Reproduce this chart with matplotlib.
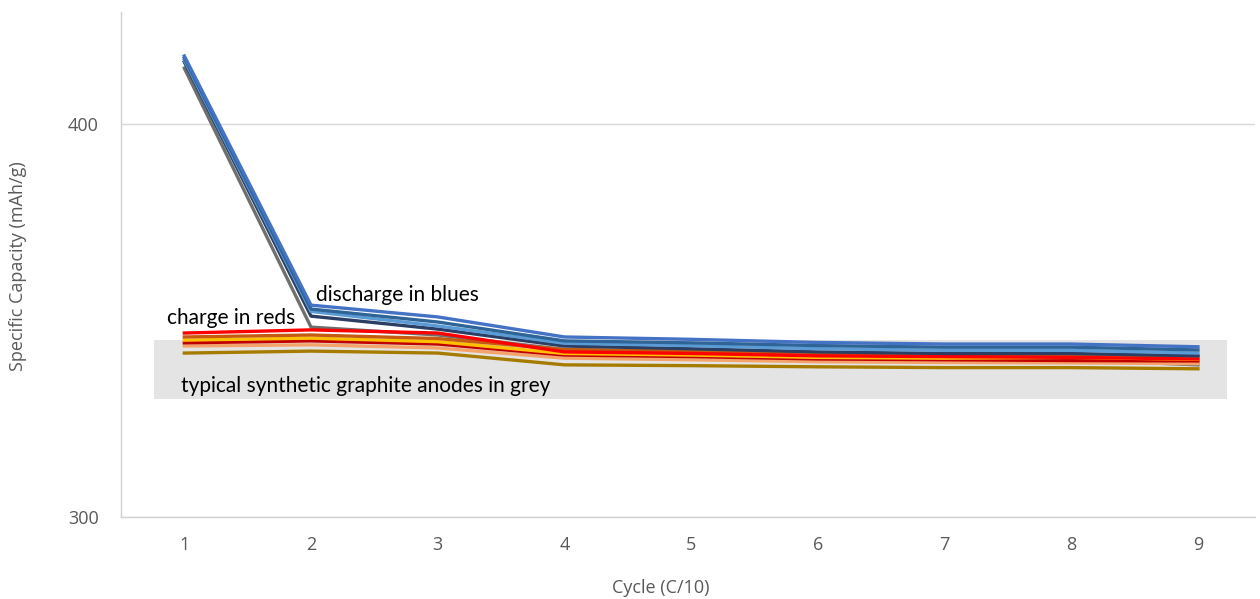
import matplotlib
matplotlib.use("Agg")
import matplotlib.pyplot as plt
from matplotlib.patches import Rectangle

plt.rcParams['font.family'] = ['Open Sans', 'DejaVu Sans']

cycles = [1, 2, 3, 4, 5, 6, 7, 8, 9]

# typical synthetic graphite (grey)
grey_discharge = [414.2, 348.3, 346.3, 342.6, 341.8, 340.8, 340.2, 340.0, 338.7]

# charge curves (reds)
charge_red = [346.8, 347.6, 346.8, 342.0, 341.6, 341.0, 340.8, 340.6, 340.2]
charge_brown = [345.8, 346.3, 345.4, 342.6, 342.2, 341.6, 341.4, 341.3, 341.0]
charge_gold = [345.0, 345.5, 344.6, 341.6, 341.2, 340.6, 340.4, 340.6, 340.1]
charge_darkred = [344.3, 344.8, 344.0, 341.2, 340.8, 340.2, 340.0, 339.8, 339.7]
charge_orange = [343.5, 343.8, 343.0, 340.4, 340.0, 339.5, 339.3, 339.2, 339.0]
charge_darkgold = [341.7, 342.2, 341.7, 338.7, 338.5, 338.2, 338.0, 338.0, 337.7]

# discharge curves (blues)
dis_blue = [417.3, 353.9, 350.9, 345.8, 345.2, 344.4, 344.0, 344.0, 343.3]
dis_steel = [416.8, 352.9, 349.6, 344.8, 344.3, 343.6, 343.2, 343.2, 342.5]
dis_light = [416.3, 352.3, 348.6, 344.2, 343.6, 342.8, 342.4, 342.4, 341.7]
dis_navy = [415.8, 351.1, 347.8, 343.5, 342.8, 342.0, 341.6, 341.6, 341.0]

band_low, band_high = 330, 345
band_x0, band_x1 = 0.76, 9.23

fig = plt.figure(figsize=(12.6, 5.99), dpi=100)
ax = fig.add_axes([0.096, 0.137, 0.9, 0.843])

ax.add_patch(Rectangle((band_x0, band_low), band_x1 - band_x0, band_high - band_low,
                       facecolor='#E4E4E4', edgecolor='none', zorder=1))

lw = 2.4
series = [
    (grey_discharge, '#6F6F6F'),
    (charge_darkgold, '#A67C00'),
    (charge_orange, '#F4A46A'),
    (charge_darkred, '#C00000'),
    (charge_gold, '#FFC000'),
    (charge_brown, '#C55A11'),
    (charge_red, '#FF0000'),
    (dis_navy, '#2B3E63'),
    (dis_light, '#5B9BD5'),
    (dis_steel, '#2E6496'),
    (dis_blue, '#4472C4'),
]
for vals, col in series:
    ax.plot(cycles, vals, color=col, lw=lw, solid_joinstyle='round', zorder=3)

ax.set_xlim(0.5, 9.45)
ax.set_ylim(300, 428.5)
ax.set_xticks(cycles)
ax.set_yticks([300, 400])
ax.yaxis.grid(True, color='#D9D9D9', lw=1)
ax.set_axisbelow(True)
ax.tick_params(length=0, labelsize=13, labelcolor='#595959')
ax.tick_params(axis='x', pad=14)
ax.tick_params(axis='y', pad=16)
for s in ['top', 'right']:
    ax.spines[s].set_visible(False)
for s in ['left', 'bottom']:
    ax.spines[s].set_color('#D0D0D0')
    ax.spines[s].set_linewidth(1)

fig.text(661 / 1260, 1 - 588 / 599, 'Cycle (C/10)', fontsize=13, color='#595959',
         ha='center', va='center')
fig.text(18 / 1260, 1 - 266 / 599, 'Specific Capacity (mAh/g)', fontsize=13, color='#595959',
         ha='center', va='center', rotation=90)

ann_font = ['Lato', 'DejaVu Sans']
ax.text(0.866, 350.6, 'charge in reds', fontsize=15, color='black', va='center', ha='left',
        zorder=5, family=ann_font)
ax.text(2.04, 356.5, 'discharge in blues', fontsize=15, color='black', va='center', ha='left',
        zorder=5, family=ann_font)
ax.text(0.97, 333.3, 'typical synthetic graphite anodes in grey', fontsize=15, color='black',
        va='center', ha='left', zorder=5, family=ann_font)

fig.savefig('out.png', dpi=100)
